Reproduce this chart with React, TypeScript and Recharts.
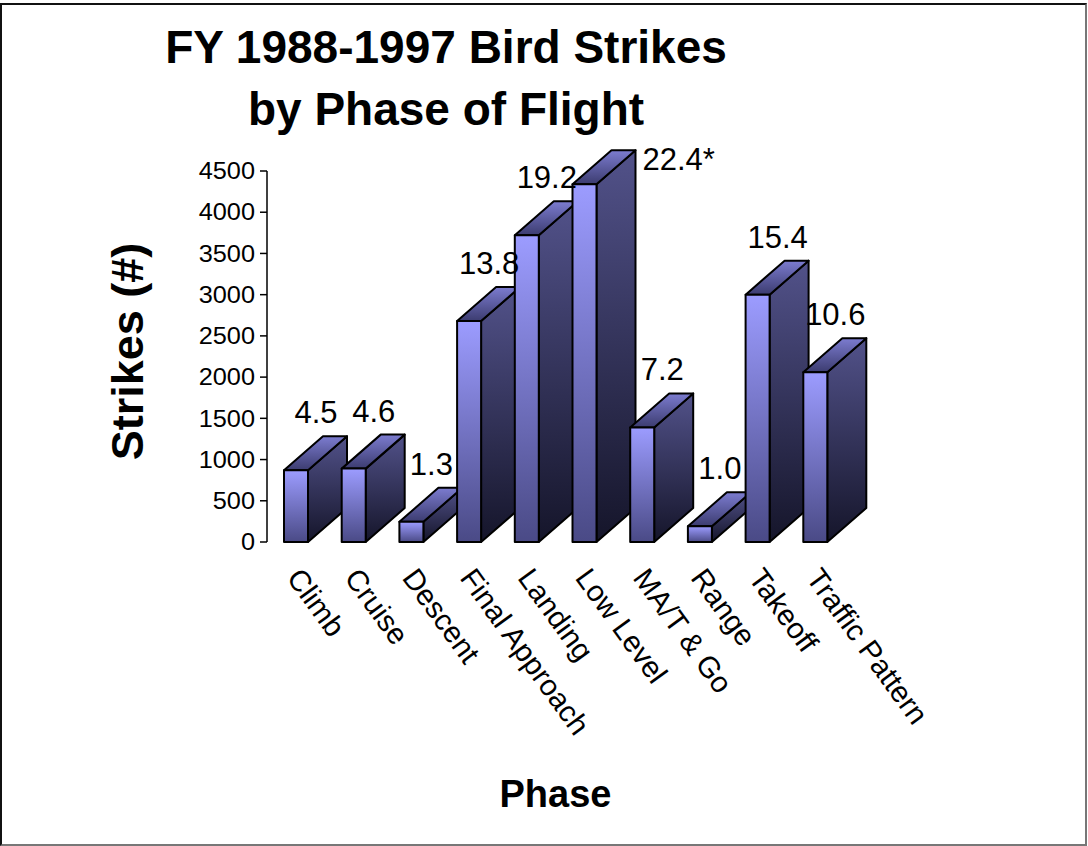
import React from 'react';
import { BarChart, Bar, XAxis, YAxis, LabelList, Label } from 'recharts';

const phases = ['Climb', 'Cruise', 'Descent', 'Final Approach', 'Landing', 'Low Level', 'MA/T & Go', 'Range', 'Takeoff', 'Traffic Pattern'];
const strikes = [870, 890, 245, 2680, 3720, 4340, 1390, 190, 3000, 2060];
const percentLabels = ['4.5', '4.6', '1.3', '13.8', '19.2', '22.4*', '7.2', '1.0', '15.4', '10.6'];
const yTicks = [0, 500, 1000, 1500, 2000, 2500, 3000, 3500, 4000, 4500];
const titleLines = ['FY 1988-1997 Bird Strikes', 'by Phase of Flight'];

const data = phases.map((p, i) => ({ phase: p, strikes: strikes[i], pct: percentLabels[i] }));

const FONT = '"Liberation Sans", Arial, Helvetica, sans-serif';
const DX = 39;
const DY = 34;

const Bar3D = (props: any) => {
  const x = Number(props.x), y = Number(props.y), w = Number(props.width), h = Number(props.height);
  const front = `M${x},${y}h${w}v${h}h${-w}Z`;
  const side = `M${x + w},${y}l${DX},${-DY}v${h}l${-DX},${DY}Z`;
  const top = `M${x},${y}l${DX},${-DY}h${w}l${-DX},${DY}Z`;
  return (
    <g stroke="#000" strokeWidth={2} strokeLinejoin="round">
      <path d={side} fill="url(#sideGrad)" />
      <path d={top} fill="url(#topGrad)" />
      <path d={front} fill="url(#frontGrad)" />
    </g>
  );
};

const PctLabel = (props: any) => {
  const vb = props.viewBox && props.viewBox.width !== undefined ? props.viewBox : props;
  const x = Number(vb.x), y = Number(vb.y), w = Number(vb.width);
  let tx = x + 32;
  let ty = y - 47;
  let anchor: any = 'middle';
  if (ty - 22 < 160) {
    tx = x + w + DX + 7;
    ty = y - 14;
    anchor = 'start';
  }
  return (
    <text x={tx} y={ty} textAnchor={anchor} fontFamily={FONT} fontSize={31} fill="#000">
      {props.value}
    </text>
  );
};

const XTick = (props: any) => {
  const { x, y, payload } = props;
  const ox = Number(x) - 10;
  const oy = Number(y) + 36;
  return (
    <text x={ox} y={oy} transform={`rotate(54, ${ox}, ${oy})`} fontFamily={FONT} fontSize={29.5} fill="#000" textAnchor="start">
      {payload.value}
    </text>
  );
};

const YTick = (props: any) => {
  const { x, y, payload } = props;
  return (
    <text
      x={x}
      y={y}
      dy="0.36em"
      textAnchor="end"
      transform={`translate(${x} ${y}) scale(1.1 1) translate(${-x} ${-y})`}
      fontFamily={FONT}
      fontSize={23}
      fill="#000"
    >
      {payload.value}
    </text>
  );
};

const YLabel = (props: any) => {
  const vb = props.viewBox || { x: 207, y: 171, width: 60, height: 371 };
  const cx = vb.x - 64;
  const cy = vb.y + vb.height / 2 - 5;
  return (
    <text x={cx} y={cy} transform={`rotate(-90, ${cx}, ${cy})`} textAnchor="middle" fontFamily={FONT} fontWeight="bold" fontSize={45} fill="#000">
      Strikes (#)
    </text>
  );
};

const XLabel = (props: any) => {
  const vb = props.viewBox || { x: 267, y: 542, width: 577, height: 30 };
  return (
    <text x={vb.x + vb.width / 2} y={vb.y + 265} textAnchor="middle" fontFamily={FONT} fontWeight="bold" fontSize={38} fill="#000">
      Phase
    </text>
  );
};

export default function App() {
  return (
    <div style={{ position: 'absolute', left: 0, top: 0, width: 1088, height: 846, background: '#fff', overflow: 'hidden' }}>
      <div
        style={{
          position: 'absolute',
          left: 0,
          top: 3,
          width: 1087,
          height: 843,
          boxSizing: 'border-box',
          borderLeft: '2px solid #111',
          borderTop: '2px solid #111',
          borderRight: '2px solid #777',
          borderBottom: '2px solid #777',
        }}
      />
      <div style={{ position: 'absolute', left: 0, top: 0 }}>
        <BarChart width={1088} height={846} data={data} margin={{ top: 171, right: 244, bottom: 274, left: 207 }}>
          <defs>
            <linearGradient id="frontGrad" x1="0" y1="0" x2="0" y2="1">
              <stop offset="0%" stopColor="#9c9cff" />
              <stop offset="100%" stopColor="#4a4a86" />
            </linearGradient>
            <linearGradient id="sideGrad" x1="0" y1="0" x2="0" y2="1">
              <stop offset="0%" stopColor="#52528a" />
              <stop offset="100%" stopColor="#15152a" />
            </linearGradient>
            <linearGradient id="topGrad" x1="0" y1="0" x2="0" y2="1">
              <stop offset="0%" stopColor="#7c7cd0" />
              <stop offset="100%" stopColor="#3c3c70" />
            </linearGradient>
          </defs>
          <XAxis dataKey="phase" axisLine={false} tickLine={false} tickSize={0} tickMargin={0} height={30} interval={0} tick={<XTick />}>
            <Label content={<XLabel />} />
          </XAxis>
          <YAxis
            domain={[0, 4500]}
            ticks={yTicks}
            width={60}
            axisLine={{ stroke: '#000', strokeWidth: 1.5 }}
            tickLine={{ stroke: '#000', strokeWidth: 1.5 }}
            tickSize={7}
            tickMargin={5}
            tick={<YTick />}
            interval={0}
          >
            <Label content={<YLabel />} />
          </YAxis>
          <Bar dataKey="strikes" barSize={24} shape={<Bar3D />} isAnimationActive={false}>
            <LabelList dataKey="pct" content={<PctLabel />} />
          </Bar>
        </BarChart>
      </div>
      <svg width={1088} height={846} style={{ position: 'absolute', left: 0, top: 0, pointerEvents: 'none' }}>
        {titleLines.map((t, i) => (
          <text key={i} x={446} y={63 + i * 62} textAnchor="middle" fontFamily={FONT} fontWeight="bold" fontSize={46} fill="#000">
            {t}
          </text>
        ))}
      </svg>
    </div>
  );
}
